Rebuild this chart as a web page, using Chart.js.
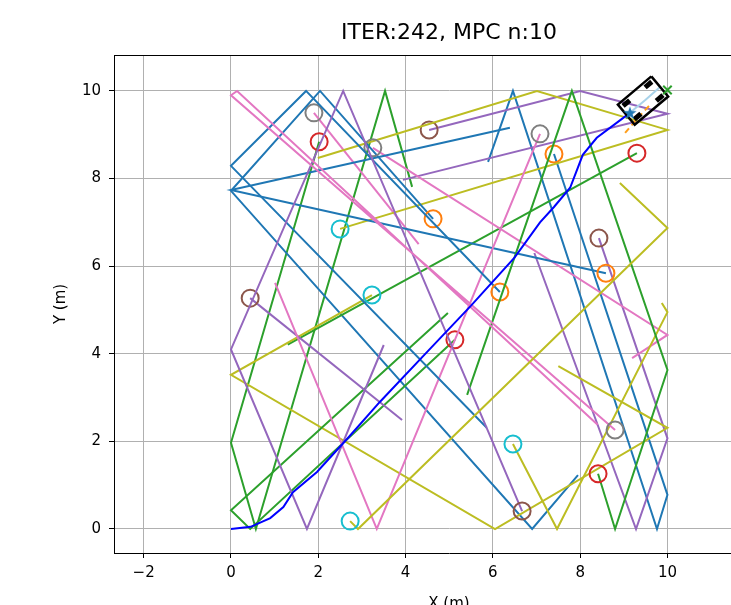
<!DOCTYPE html>
<html><head><meta charset="utf-8">
<script src="https://cdn.jsdelivr.net/npm/chart.js@4.4.1/dist/chart.umd.min.js"></script>
<style>html,body{margin:0;padding:0;overflow:hidden;background:#fff}#wrap{width:800px;height:625px}</style>
</head><body><div id="wrap"><canvas id="c" width="800" height="625"></canvas></div>
<script>
const titleText = 'ITER:242, MPC n:10';
const xLabel = 'X (m)';
const yLabel = 'Y (m)';
const xTicks = [-2, 0, 2, 4, 6, 8, 10, 12];
const yTicks = [0, 2, 4, 6, 8, 10];
const xRange = [-2.68, 12.67];
const yRange = [-0.548, 10.82];

// robot driven path
const pathX = [0, 0.45, 0.9, 1.2, 1.42, 1.97, 2.7, 3.41, 4.5, 5.5, 6.5, 7.08, 7.4, 7.77, 8.06, 8.38, 8.98, 9.14];
const pathY = [0, 0.05, 0.25, 0.5, 0.84, 1.3, 2.1, 2.9, 4.05, 5.1, 6.2, 7.0, 7.35, 7.79, 8.54, 8.93, 9.38, 9.5];

// obstacle trails (tab10 colors, cycle order)
const trailBlue1 = [[5.89,8.38],[6.46,10],[9.76,0],[10,0.78],[7.40,8.56]];
const trailBlue2 = [[7.95,1.23],[6.9,0],[0,7.72],[2.04,10],[4.63,7.08]];
const trailBlue3 = [[6.39,9.16],[0,7.74],[8.59,5.84]];
const trailBlue4 = [[5.86,2.31],[0,8.29],[1.72,10],[6.16,5.41]];
const trailGreen1 = [[4.15,7.81],[3.53,10],[0.57,0],[0,1.97],[2.02,8.84]];
const trailGreen2 = [[1.30,4.21],[9.30,8.58]];
const trailGreen3 = [[4.97,4.93],[0,0.43],[0.44,0],[5.13,4.32]];
const trailGreen4 = [[5.41,3.06],[7.81,10],[10,3.63],[8.8,0],[8.41,1.26]];
const trailPurple1 = [[3.94,7.97],[10,9.48],[8.0,10],[4.54,9.11]];
const trailPurple2 = [[6.95,6.30],[9.28,0],[10,2.07],[8.43,6.64]];
const trailPurple3 = [[3.92,2.49],[0.44,5.27]];
const trailPurple4 = [[3.5,4.2],[1.74,0],[0,4.1],[2.57,10],[6.67,0.41]];
const trailPink1 = [[4.3,6.5],[1.90,9.5]];
const trailPink2 = [[9.19,3.90],[10,4.43],[3.25,8.70]];
const trailPink3 = [[1.01,5.62],[3.34,0],[7.08,9.02]];
const trailPink4 = [[8.4,2.38],[0.14,10],[0,9.9],[8.80,2.26]];
const trailOlive1 = [[1.99,8.47],[7.01,10],[10,9.11],[2.50,6.85]];
const trailOlive2 = [[7.5,3.72],[10,2.31],[6.05,0],[0,3.52],[3.23,5.34]];
const trailOlive3 = [[9.87,5.16],[10,4.95],[7.47,0],[6.46,1.94]];
const trailOlive4 = [[8.91,7.9],[10,6.87],[2.91,0],[2.73,0.18]];

// obstacle current positions
const obsOrangeX = [7.40, 4.63, 8.59, 6.16];
const obsOrangeY = [8.56, 7.08, 5.84, 5.41];
const obsRedX = [2.02, 9.30, 5.13, 8.41];
const obsRedY = [8.84, 8.58, 4.32, 1.26];
const obsBrownX = [4.54, 8.43, 0.44, 6.67];
const obsBrownY = [9.11, 6.64, 5.27, 0.41];
const obsGrayX = [1.90, 3.25, 7.08, 8.80];
const obsGrayY = [9.50, 8.70, 9.02, 2.26];
const obsCyanX = [2.50, 3.23, 6.46, 2.73];
const obsCyanY = [6.85, 5.34, 1.94, 0.18];

// vehicle state
const carX = 9.44, carY = 9.78, carYawDeg = 40, carLen = 1.0, carWid = 0.6;
const goal = [10, 10.02];
const predX = [9.14, 9.5, 9.83];
const predY = [9.5, 9.8, 10.09];
const refX = [9.03, 9.3, 9.6];
const refY = [9.04, 9.36, 9.68];

const C = {blue:'#1f77b4', orange:'#ff7f0e', green:'#2ca02c', red:'#d62728', purple:'#9467bd',
  brown:'#8c564b', pink:'#e377c2', gray:'#7f7f7f', olive:'#bcbd22', cyan:'#17becf'};

const pts = a => a.map(p => ({x:p[0], y:p[1]}));
const zip = (xs, ys) => xs.map((x,i) => ({x, y:ys[i]}));

const datasets = [];
let ord = 1000;
function addLine(data, color, width, extra) {
  datasets.push(Object.assign({data, showLine:true, borderColor:color, borderWidth:width, pointRadius:0,
    fill:false, tension:0, order: ord--}, extra||{}));
}
function addCircle(x, y, color) {
  datasets.push({data:[{x,y}], showLine:false, pointRadius:8.5, pointHoverRadius:8.5, pointBorderWidth:2,
    pointBorderColor:color, pointBackgroundColor:'rgba(0,0,0,0)', order: ord--});
}
const trails = [
  [trailBlue1, C.blue, obsOrangeX[0], obsOrangeY[0], C.orange],
  [trailGreen1, C.green, obsRedX[0], obsRedY[0], C.red],
  [trailPurple1, C.purple, obsBrownX[0], obsBrownY[0], C.brown],
  [trailPink1, C.pink, obsGrayX[0], obsGrayY[0], C.gray],
  [trailOlive1, C.olive, obsCyanX[0], obsCyanY[0], C.cyan],
  [trailBlue2, C.blue, obsOrangeX[1], obsOrangeY[1], C.orange],
  [trailGreen2, C.green, obsRedX[1], obsRedY[1], C.red],
  [trailPurple2, C.purple, obsBrownX[1], obsBrownY[1], C.brown],
  [trailPink2, C.pink, obsGrayX[1], obsGrayY[1], C.gray],
  [trailOlive2, C.olive, obsCyanX[1], obsCyanY[1], C.cyan],
  [trailBlue3, C.blue, obsOrangeX[2], obsOrangeY[2], C.orange],
  [trailGreen3, C.green, obsRedX[2], obsRedY[2], C.red],
  [trailPurple3, C.purple, obsBrownX[2], obsBrownY[2], C.brown],
  [trailPink3, C.pink, obsGrayX[2], obsGrayY[2], C.gray],
  [trailOlive3, C.olive, obsCyanX[2], obsCyanY[2], C.cyan],
  [trailBlue4, C.blue, obsOrangeX[3], obsOrangeY[3], C.orange],
  [trailGreen4, C.green, obsRedX[3], obsRedY[3], C.red],
  [trailPurple4, C.purple, obsBrownX[3], obsBrownY[3], C.brown],
  [trailPink4, C.pink, obsGrayX[3], obsGrayY[3], C.gray],
  [trailOlive4, C.olive, obsCyanX[3], obsCyanY[3], C.cyan]
];
trails.forEach(t => { addLine(pts(t[0]), t[1], 2); addCircle(t[2], t[3], t[4]); });

addLine(zip(pathX, pathY), '#0000ff', 2);
addLine(zip(refX, refY), '#ff9f1c', 2, {borderDash:[6,4]});
addLine(zip(predX, predY), '#a9d3ea', 2);

// car outline + wheels from state
const yaw = carYawDeg * Math.PI / 180;
const ux = Math.cos(yaw), uy = Math.sin(yaw), nx = -uy, ny = ux;
const corner = (a, b) => ({x: carX + a*ux + b*nx, y: carY + a*uy + b*ny});
const hl = carLen/2, hw = carWid/2;
addLine([corner(hl,hw), corner(hl,-hw), corner(-hl,-hw), corner(-hl,hw), corner(hl,hw)], '#000', 2.5);
[[0.33,0.2],[0.33,-0.2],[-0.33,0.2],[-0.33,-0.2]].forEach(w => {
  addLine([corner(w[0]-0.1, w[1]), corner(w[0]+0.1, w[1])], '#000', 5);
});

// star marker canvas
const star = document.createElement('canvas'); star.width = 14; star.height = 14;
(function(){ const g = star.getContext('2d'); g.fillStyle = '#1f77b4'; g.beginPath();
  for (let i=0;i<10;i++){ const r = i%2?2.8:7; const a = -Math.PI/2 + i*Math.PI/5;
    g.lineTo(7+r*Math.cos(a), 7.5+r*Math.sin(a)); } g.closePath(); g.fill(); })();
datasets.push({data:[{x:predX[0], y:predY[0]}], pointStyle:star, pointRadius:7, order: ord--});
datasets.push({data:[{x:goal[0], y:goal[1]}], pointStyle:'crossRot', pointRadius:6, pointBorderWidth:2,
  pointBorderColor:'#2ca02c', order: ord--});

const frame = {id:'frame', afterDraw(chart){ const a = chart.chartArea, g = chart.ctx; g.save();
  g.strokeStyle = '#000'; g.lineWidth = 1; g.beginPath(); g.moveTo(a.left, a.top+0.5); g.lineTo(a.right, a.top+0.5);
  g.moveTo(a.right-0.5, a.top); g.lineTo(a.right-0.5, a.bottom); g.stroke(); g.restore(); }};

const fmt = v => (v < 0 ? '\u2212' + Math.abs(v) : String(v));
const font = 'DejaVu Sans';
new Chart(document.getElementById('c'), {
  type: 'scatter',
  data: {datasets},
  options: {
    responsive:false, animation:false, events:[],
    layout:{padding:{left:48, right:16, top:0, bottom:0}},
    plugins:{legend:{display:false}, tooltip:{enabled:false},
      title:{display:true, text:titleText, fullSize:false, color:'#000',
        font:{family:font, size:22, weight:'normal'}, padding:{top:20, bottom:8.6}}},
    scales:{
      x:{type:'linear', min:xRange[0], max:xRange[1],
        afterBuildTicks: s => { s.ticks = xTicks.map(v => ({value:v})); },
        afterFit: s => { s.height = 72; },
        ticks:{color:'#000', font:{family:font, size:15}, padding:6, maxRotation:0, autoSkip:false, callback: fmt},
        grid:{color:'#b0b0b0', lineWidth:1, tickColor:'#000', tickLength:5},
        border:{display:true, color:'#000', width:1},
        title:{display:true, text:xLabel, color:'#000', font:{family:font, size:15}, padding:{top:0, bottom:12}}},
      y:{type:'linear', min:yRange[0], max:yRange[1],
        afterBuildTicks: s => { s.ticks = yTicks.map(v => ({value:v})); },
        afterFit: s => { s.width = 66; },
        ticks:{color:'#000', font:{family:font, size:15}, padding:8, autoSkip:false, callback: fmt},
        grid:{color:'#b0b0b0', lineWidth:1, tickColor:'#000', tickLength:5},
        border:{display:true, color:'#000', width:1},
        title:{display:true, text:yLabel, color:'#000', font:{family:font, size:15}, padding:{top:4, bottom:0}}}
    }
  },
  plugins:[frame]
});
</script></body></html>
